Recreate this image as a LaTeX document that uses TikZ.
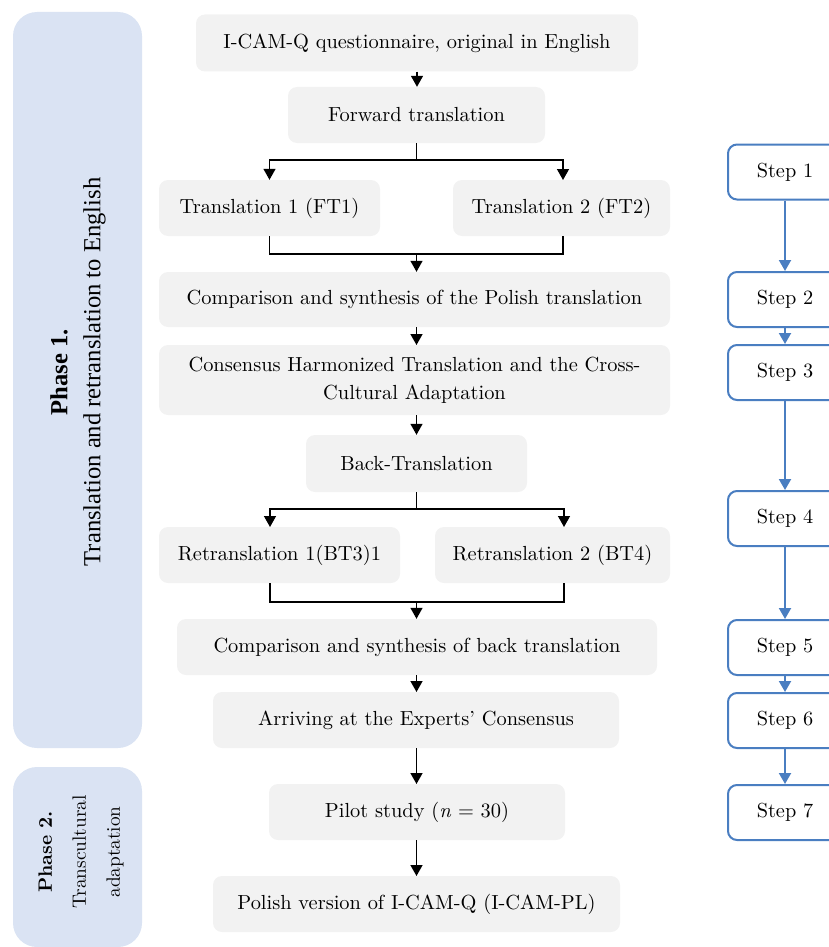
\documentclass[tikz,border=0pt]{standalone}
\usepackage{fontspec}
\setmainfont{lmroman10-regular.otf}[BoldFont=lmroman10-bold.otf, ItalicFont=lmroman10-italic.otf, BoldItalicFont=lmroman10-bolditalic.otf]
\newfontfamily\phasefont{Liberation Serif}
\usetikzlibrary{arrows.meta}
\definecolor{phasebg}{RGB}{218,227,243}
\definecolor{boxbg}{RGB}{242,242,242}
\definecolor{stepblue}{RGB}{74,126,193}
\begin{document}
\begin{tikzpicture}[x=1pt,y=-1pt,
  gbox/.style={fill=boxbg, rounded corners=9pt, inner sep=0pt, align=center,
    font=\fontsize{20.4}{28}\selectfont},
  phasebox/.style={fill=phasebg, rounded corners=24pt, inner sep=0pt},
  stepbox/.style={draw=stepblue, line width=2pt, fill=white, rounded corners=9pt,
    inner sep=0pt, minimum width=114pt, minimum height=55pt,
    font=\fontsize{20.3}{24}\selectfont},
  conn/.style={line width=1.4pt, black},
  arr/.style={conn, -{Triangle[width=12pt,length=11pt]}},
  barr/.style={line width=2pt, stepblue, -{Triangle[width=12pt,length=11pt]}}]
\useasboundingbox (0,0) rectangle (828,947);
% phases
\node[phasebox, minimum width=129pt, minimum height=736pt] (p1) at (77.5,380) {};
\node[rotate=90, align=center, font=\phasefont\fontsize{24.6}{33}\selectfont] (p1t) at (78,372)
  {\textbf{Phase 1.}\\Translation and retranslation to English};
\node[phasebox, minimum width=129pt, minimum height=180pt] (p2) at (77.5,857) {};
\node[rotate=90, align=center, font=\fontsize{19.3}{34}\selectfont] (p2t) at (81,852)
  {\textbf{Phase 2.}\\Transcultural\\adaptation};
% main boxes
\node[gbox, minimum width=442pt, minimum height=57pt] (q) at (417,43) {I-CAM-Q questionnaire, original in English};
\node[gbox, minimum width=257pt, minimum height=56pt] (ft) at (416.5,115) {Forward translation};
\node[gbox, minimum width=221pt, minimum height=56pt] (t1) at (269.5,208) {Translation 1 (FT1)};
\node[gbox, minimum width=217pt, minimum height=56pt] (t2) at (561.5,208) {Translation 2 (FT2)};
\node[gbox, minimum width=511pt, minimum height=55pt] (cmp) at (414.5,299.5) {Comparison and synthesis of the Polish translation};
\node[gbox, minimum width=511pt, minimum height=70pt] (cons) at (414.5,380) {Consensus Harmonized Translation and the Cross-\\Cultural Adaptation};
\node[gbox, minimum width=221pt, minimum height=57pt] (bt) at (416.5,463.5) {Back-Translation};
\node[gbox, minimum width=241pt, minimum height=56pt] (r1) at (279.5,555) {Retranslation 1(BT3)1};
\node[gbox, minimum width=235pt, minimum height=56pt] (r2) at (552.5,555) {Retranslation 2 (BT4)};
\node[gbox, minimum width=480pt, minimum height=56pt] (cb) at (417,647) {Comparison and synthesis of back translation};
\node[gbox, minimum width=406pt, minimum height=56pt] (ex) at (416,720) {Arriving at the Experts' Consensus};
\node[gbox, minimum width=296pt, minimum height=56pt] (pil) at (417,812) {Pilot study (\textit{n} = 30)};
\node[gbox, minimum width=407pt, minimum height=56pt] (pol) at (416.5,904) {Polish version of I-CAM-Q (I-CAM-PL)};
% connectors
\draw[arr] (q.south) -- (q.south |- ft.north);
\coordinate (j1) at (416.5,160);
\draw[conn] (ft.south) -- (j1);
\draw[arr] (j1) -| (t1.north);
\draw[arr] (j1) -| (563,180);
\coordinate (m1) at (416.5,254);
\draw[conn] (t1.south) |- (m1);
\draw[conn] (563,236) |- (m1);
\draw[arr] (m1) -- (m1 |- cmp.north);
\draw[arr] (416.5,327) -- (416.5,345);
\draw[arr] (416.5,415) -- (bt.north);
\coordinate (j2) at (416.5,509);
\draw[conn] (bt.south) -- (j2);
\draw[arr] (j2) -| (270,527);
\draw[arr] (j2) -| (564,527);
\coordinate (m2) at (416.5,602);
\draw[conn] (270,583) |- (m2);
\draw[conn] (564,583) |- (m2);
\draw[arr] (m2) -- (m2 |- cb.north);
\draw[arr] (416.5,675) -- (416.5,692);
\draw[arr] (416.5,748) -- (416.5,784);
\draw[arr] (416.5,840) -- (416.5,876);
% steps
\node[stepbox] (s1) at (785,172) {Step 1};
\node[stepbox] (s2) at (785,299.5) {Step 2};
\node[stepbox] (s3) at (785,372.5) {Step 3};
\node[stepbox] (s4) at (785,518.5) {Step 4};
\node[stepbox] (s5) at (785,647.5) {Step 5};
\node[stepbox] (s6) at (785,720.5) {Step 6};
\node[stepbox] (s7) at (785,812.5) {Step 7};
\draw[barr] (s1.south) -- (s2.north);
\draw[barr] (s2.south) -- (s3.north);
\draw[barr] (s3.south) -- (s4.north);
\draw[barr] (s4.south) -- (s5.north);
\draw[barr] (s5.south) -- (s6.north);
\draw[barr] (s6.south) -- (s7.north);
\end{tikzpicture}
\end{document}
